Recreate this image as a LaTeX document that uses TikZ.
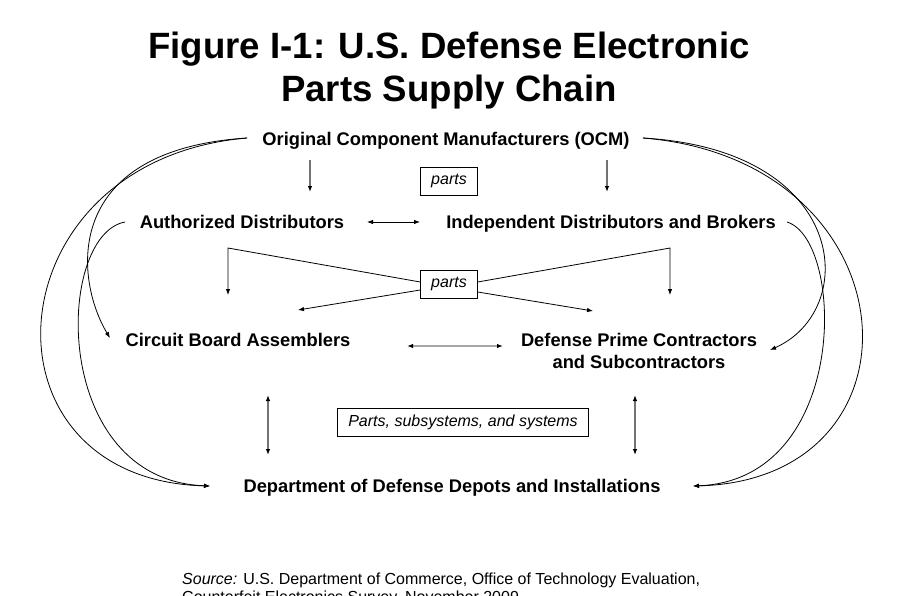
\documentclass[tikz,border=0pt]{standalone}
\usepackage{fontspec}
\setmainfont{Liberation Sans}
\usetikzlibrary{arrows.meta,calc}
\tikzset{
  lbl/.style={font=\bfseries\fontsize{18.3}{22}\selectfont, align=center, inner sep=2pt},
  tag/.style={draw, line width=0.9pt, font=\itshape\fontsize{16}{18}\selectfont, inner xsep=10.5pt, minimum height=28pt},
  arr/.style={-{Latex[length=6pt,width=4.5pt]}, line width=0.8pt},
  darr/.style={{Latex[length=6pt,width=4.5pt]}-{Latex[length=6pt,width=4.5pt]}, line width=0.8pt},
  garr/.style={-{Latex[length=6pt,width=4.5pt,color=black]}, draw=black!55, line width=1.1pt},
  gdarr/.style={{Latex[length=6pt,width=4.5pt,color=black]}-{Latex[length=6pt,width=4.5pt,color=black]}, draw=black!55, line width=1.1pt},
}
\begin{document}
\begin{tikzpicture}[x=1pt,y=-1pt]
\useasboundingbox (0,0) rectangle (913,595);
% title
\node[font=\bfseries\fontsize{36.6}{43}\selectfont, align=center, anchor=north, inner sep=0pt] (title) at (449,31.5) {Figure I-1: U.S. Defense Electronic\\Parts Supply Chain};
% actors
\node[lbl, anchor=base] (ocm) at (446,145.5) {Original Component Manufacturers (OCM)};
\node[lbl, anchor=base] (ad) at (242,228.5) {Authorized Distributors};
\node[lbl, anchor=base] (idb) at (611,228.5) {Independent Distributors and Brokers};
\node[lbl, anchor=base] (cba) at (238,346.5) {Circuit Board Assemblers};
\node[lbl, anchor=north] (dpc) at (639,331.2) {Defense Prime Contractors\\and Subcontractors};
\node[lbl, anchor=base] (dod) at (452,492.5) {Department of Defense Depots and Installations};
% flow tags
\node[tag] (p1) at (449,181) {parts};
\node[tag] (p2) at (449,284) {parts};
\node[tag] (psys) at (463,422) {Parts, subsystems, and systems};
% source
\node[font=\fontsize{16}{18.4}\selectfont, align=left, anchor=north west, inner sep=0pt] (src) at (182,572.3) {\textit{Source:} U.S. Department of Commerce, Office of Technology Evaluation,\\Counterfeit Electronics Survey, November 2009.};
% straight flows
\draw[garr] ($(ocm.base)+(-136,14.5)$) -- ($(ad.base)+(68,-36.5)$);
\draw[garr] ($(ocm.base)+(161,14.5)$) -- ($(idb.base)+(-4,-36.5)$);
\draw[darr] ($(ad.base)+(125,-6.5)$) -- ($(idb.base)+(-191,-6.5)$);
\draw[arr] ([yshift=2pt]p2.west) -- ($(ad.base)+(-14,19.5)$) -- ($(cba.base)+(-10,-51.5)$);
\draw[arr] ([yshift=-6pt]p2.west) -- ($(cba.base)+(60,-36.5)$);
\draw[arr] ([yshift=2pt]p2.east) -- ($(idb.base)+(59,19.5)$) -- ($(dpc.north)+(31,-36.2)$);
\draw[arr] ([yshift=-8pt]p2.east) -- ($(dpc.north)+(-46,-20.2)$);
\draw[gdarr, draw=black!35, line width=1.5pt] ($(cba.base)+(169,-0.5)$) -- ($(dpc.north)+(-136,14.8)$);
\draw[gdarr] ($(cba.base)+(30,48.5)$) -- ($(dod.base)+(-184,-37.5)$);
\draw[gdarr] ($(dpc.north)+(-4,63.8)$) -- ($(dod.base)+(183,-37.5)$);
% curved flows, left
\draw[arr] ($(ocm.base)+(-199,-7.5)$) .. controls (60,150) and (75,280) .. ($(cba.base)+(-128,-8.5)$);
\draw[arr] ($(ocm.base)+(-199,-7.5)$) .. controls (-10,160) and (-30,480) .. ($(dod.base)+(-242,-6.5)$);
\draw[arr] ($(ad.base)+(-117,-6.5)$) .. controls (55,235) and (50,480) .. ($(dod.base)+(-242,-6.5)$);
% curved flows, right
\draw[arr] ($(ocm.base)+(197,-7.5)$) .. controls (850,150) and (860,310) .. ($(dpc.north)+(131,18.8)$);
\draw[arr] ($(ocm.base)+(197,-7.5)$) .. controls (915,160) and (935,480) .. ($(dod.base)+(241,-6.5)$);
\draw[arr] ($(idb.base)+(176,-6.5)$) .. controls (845,240) and (850,480) .. ($(dod.base)+(241,-6.5)$);
\end{tikzpicture}
\end{document}
